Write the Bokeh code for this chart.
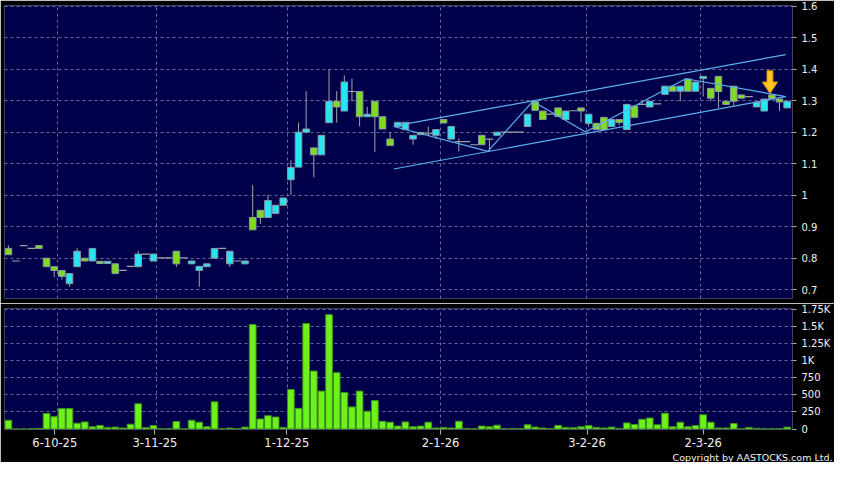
from bokeh.plotting import figure
from bokeh.models import Range1d, FixedTicker, NumeralTickFormatter, Title, ColumnDataSource
from bokeh.layouts import column
from bokeh.embed import file_html
from bokeh.resources import INLINE

# ---------------- data ----------------
opens = [0.831, 0.791, 0.840, 0.831, 0.840, 0.800, 0.773, 0.761, 0.719, 0.773,
         0.800, 0.791, 0.790, 0.783, 0.782, 0.761, 0.774, 0.773, 0.813, 0.791,
         0.801, 0.801, 0.822, 0.801, 0.782, 0.761, 0.773, 0.800, 0.831, 0.782,
         0.791, 0.782, 0.929, 0.952, 0.929, 0.942, 0.968, 1.049, 1.089, 1.200,
         1.150, 1.128, 1.230, 1.298, 1.267, 1.329, 1.329, 1.249, 1.298, 1.249,
         1.178, 1.218, 1.208, 1.178, 1.199, 1.195, 1.190, 1.240, 1.178, 1.170,
         1.170, 1.160, 1.190, 1.178, 1.190, 1.200, 1.200, 1.200, 1.218, 1.298,
         1.267, 1.257, 1.277, 1.240, 1.268, 1.277, 1.228, 1.228, 1.247, 1.218,
         1.240, 1.208, 1.283, 1.288, 1.280, 1.290, 1.320, 1.346, 1.330, 1.369,
         1.330, 1.370, 1.339, 1.377, 1.298, 1.346, 1.318, 1.313, 1.280, 1.267,
         1.318, 1.305, 1.277]
highs = [0.841, 0.791, 0.840, 0.831, 0.840, 0.800, 0.773, 0.761, 0.751, 0.832,
         0.800, 0.831, 0.790, 0.790, 0.782, 0.761, 0.774, 0.823, 0.813, 0.813,
         0.801, 0.801, 0.822, 0.801, 0.791, 0.774, 0.782, 0.831, 0.831, 0.822,
         0.791, 0.791, 1.032, 0.952, 1.001, 0.968, 0.991, 1.111, 1.230, 1.330,
         1.150, 1.190, 1.400, 1.330, 1.380, 1.370, 1.329, 1.280, 1.298, 1.249,
         1.200, 1.231, 1.231, 1.190, 1.199, 1.218, 1.208, 1.240, 1.218, 1.180,
         1.170, 1.160, 1.190, 1.178, 1.200, 1.200, 1.200, 1.200, 1.257, 1.298,
         1.267, 1.257, 1.277, 1.267, 1.268, 1.277, 1.257, 1.228, 1.247, 1.240,
         1.240, 1.288, 1.283, 1.300, 1.298, 1.290, 1.346, 1.346, 1.346, 1.369,
         1.359, 1.377, 1.339, 1.377, 1.298, 1.346, 1.318, 1.313, 1.295, 1.305,
         1.318, 1.305, 1.298]
lows = [0.811, 0.791, 0.840, 0.831, 0.831, 0.773, 0.740, 0.732, 0.709, 0.773,
        0.791, 0.791, 0.783, 0.783, 0.751, 0.761, 0.774, 0.773, 0.813, 0.791,
        0.801, 0.801, 0.772, 0.801, 0.782, 0.709, 0.773, 0.800, 0.831, 0.772,
        0.791, 0.782, 0.890, 0.909, 0.929, 0.942, 0.968, 1.001, 1.089, 1.200,
        1.057, 1.128, 1.230, 1.230, 1.267, 1.298, 1.218, 1.249, 1.137, 1.210,
        1.158, 1.218, 1.208, 1.160, 1.192, 1.190, 1.178, 1.229, 1.178, 1.139,
        1.170, 1.160, 1.160, 1.139, 1.190, 1.200, 1.200, 1.200, 1.218, 1.269,
        1.240, 1.257, 1.250, 1.240, 1.268, 1.231, 1.218, 1.208, 1.208, 1.218,
        1.222, 1.208, 1.247, 1.288, 1.280, 1.290, 1.320, 1.330, 1.298, 1.330,
        1.330, 1.313, 1.298, 1.277, 1.288, 1.282, 1.308, 1.313, 1.280, 1.267,
        1.306, 1.267, 1.277]
closes = [0.811, 0.791, 0.840, 0.831, 0.831, 0.773, 0.761, 0.742, 0.751, 0.822,
          0.791, 0.831, 0.783, 0.790, 0.751, 0.761, 0.774, 0.813, 0.813, 0.813,
          0.801, 0.801, 0.782, 0.801, 0.791, 0.774, 0.782, 0.831, 0.831, 0.822,
          0.791, 0.791, 0.890, 0.929, 0.983, 0.968, 0.991, 1.088, 1.200, 1.210,
          1.128, 1.190, 1.298, 1.280, 1.359, 1.329, 1.249, 1.257, 1.249, 1.210,
          1.158, 1.231, 1.231, 1.190, 1.192, 1.195, 1.208, 1.229, 1.218, 1.170,
          1.170, 1.160, 1.160, 1.178, 1.200, 1.200, 1.200, 1.200, 1.257, 1.269,
          1.240, 1.257, 1.250, 1.267, 1.268, 1.267, 1.257, 1.208, 1.208, 1.240,
          1.231, 1.288, 1.247, 1.288, 1.298, 1.290, 1.346, 1.330, 1.346, 1.330,
          1.359, 1.377, 1.308, 1.329, 1.288, 1.298, 1.308, 1.313, 1.295, 1.305,
          1.306, 1.296, 1.298]
volumes = [128, 0, 0, 5, 10, 228, 180, 299, 299, 85,
           104, 33, 53, 24, 28, 15, 71, 370, 20, 50,
           3, 3, 109, 3, 128, 100, 33, 398, 3, 15,
           5, 28, 1532, 147, 195, 176, 24, 579, 303, 1547,
           849, 555, 1675, 825, 536, 323, 555, 261, 417, 114,
           100, 43, 104, 33, 43, 100, 15, 24, 15, 114,
           10, 3, 43, 33, 57, 3, 8, 3, 62, 28,
           15, 8, 53, 24, 20, 33, 53, 24, 15, 28,
           10, 90, 66, 142, 161, 62, 232, 33, 100, 33,
           50, 209, 100, 15, 15, 81, 3, 24, 10, 3,
           3, 5, 28]

date_tick_pos = [6.08, 19.19, 36.46, 56.6, 75.8, 91.0]
date_grid_pos = [6.49, 19.45, 36.54, 56.6, 75.67, 90.66]
date_labels = ["6-10-25", "3-11-25", "1-12-25", "2-1-26", "3-2-26", "2-3-26"]

price_ticks = [0.7, 0.8, 0.9, 1.0, 1.1, 1.2, 1.3, 1.4, 1.5, 1.6]
vol_ticks = [0, 250, 500, 750, 1000, 1250, 1500, 1750]
vol_labels = ["0", "250", "500", "750", "1K", "1.25K", "1.5K", "1.75K"]

# trend lines drawn on the chart (bar index, price)
upper_x = [50.47, 101.8]
upper_y = [1.219, 1.446]
lower_x = [50.47, 101.8]
lower_y = [1.083, 1.313]
zig_x = [50.47, 62.81, 68.68, 75.58, 88.73, 101.8]
zig_y = [1.218, 1.139, 1.298, 1.2006, 1.3695, 1.313]

# marker arrow (bar index, top price, neck price, tip price)
arrow_idx = 99.75
arrow_top = 1.395
arrow_neck = 1.359
arrow_tip = 1.323

copyright_text = "Copyright by AASTOCKS.com Ltd."

# ---------------- styling ----------------
BG = "#00004a"
GRID = "#6a6a9a"
UP = "#25e6f2"
DOWN = "#7ddc1e"
EDGE = "#8c98a4"
WICK = "#a4a4a4"
VOLC = "#6cf21a"
VOLE = "#3f8f1a"
TREND = "#5cb2ee"
TXT = "#f0f0f0"
FONT = "DejaVu Sans"

W = 834
XR = (-0.51, 102.7)

n = len(opens)
idx = list(range(n))

up = dict(x=[], top=[], bottom=[])
dn = dict(x=[], top=[], bottom=[])
dj = dict(x0=[], x1=[], y=[])
for i in idx:
    o, c = opens[i], closes[i]
    if c > o:
        up["x"].append(i); up["top"].append(c); up["bottom"].append(o)
    elif c < o:
        dn["x"].append(i); dn["top"].append(o); dn["bottom"].append(c)
    else:
        dj["x0"].append(i - 0.5); dj["x1"].append(i + 0.5); dj["y"].append(c)

# ---------------- price panel ----------------
p1 = figure(width=W, height=303, x_range=Range1d(*XR), y_range=Range1d(0.672, 1.602),
            output_backend="svg", toolbar_location=None, y_axis_location="right",
            min_border_left=4, min_border_right=42, min_border_top=5, min_border_bottom=5,
            background_fill_color=BG, border_fill_color="black", outline_line_color=None)
p1.xaxis.visible = False
p1.xgrid.ticker = FixedTicker(ticks=date_grid_pos)
p1.yaxis.ticker = FixedTicker(ticks=price_ticks)
p1.ygrid.ticker = FixedTicker(ticks=price_ticks)
p1.yaxis.formatter = NumeralTickFormatter(format="0.[0]")
for g in (p1.xgrid, p1.ygrid):
    g.grid_line_color = GRID
    g.grid_line_dash = "3 3"
    g.grid_line_width = 1

p1.segment(x0=idx, x1=idx, y0=lows, y1=highs, line_color=WICK, line_width=1)
p1.segment(x0="x0", x1="x1", y0="y", y1="y", source=ColumnDataSource(dj),
           line_color=WICK, line_width=1.2)
p1.vbar(x="x", top="top", bottom="bottom", width=0.86, source=ColumnDataSource(up),
        fill_color=UP, line_color=EDGE, line_width=1)
p1.vbar(x="x", top="top", bottom="bottom", width=0.86, source=ColumnDataSource(dn),
        fill_color=DOWN, line_color=EDGE, line_width=1)

p1.line(upper_x, upper_y, line_color=TREND, line_width=1.2)
p1.line(lower_x, lower_y, line_color=TREND, line_width=1.2)
p1.line(zig_x, zig_y, line_color=TREND, line_width=1.2)

sw, hw = 0.39, 1.0
ax = [arrow_idx - sw, arrow_idx + sw, arrow_idx + sw, arrow_idx + hw,
      arrow_idx, arrow_idx - hw, arrow_idx - sw]
ay = [arrow_top, arrow_top, arrow_neck, arrow_neck, arrow_tip, arrow_neck, arrow_neck]
p1.patch(ax, ay, fill_color="#ffc61e", line_color="#e08a00", line_width=1)

# ---------------- volume panel ----------------
p2 = figure(width=W, height=159, x_range=p1.x_range, y_range=Range1d(-7, 1765),
            output_backend="svg", toolbar_location=None, y_axis_location="right",
            min_border_left=4, min_border_right=42, min_border_top=5, min_border_bottom=0,
            background_fill_color=BG, border_fill_color="black", outline_line_color=None)
p2.vbar(x=idx, top=volumes, bottom=0, width=0.88, fill_color=VOLC, line_color=VOLE, line_width=1)
p2.xaxis.ticker = FixedTicker(ticks=date_tick_pos)
p2.xaxis.major_label_overrides = {k: v for k, v in zip(date_tick_pos, date_labels)}
p2.xgrid.ticker = FixedTicker(ticks=date_grid_pos)
p2.yaxis.ticker = FixedTicker(ticks=vol_ticks)
p2.ygrid.ticker = FixedTicker(ticks=vol_ticks)
p2.yaxis.major_label_overrides = {k: v for k, v in zip(vol_ticks, vol_labels)}
for g in (p2.xgrid, p2.ygrid):
    g.grid_line_color = GRID
    g.grid_line_dash = "3 3"
    g.grid_line_width = 1

for a in (p1.yaxis[0], p2.yaxis[0]):
    a.axis_line_color = None
    a.major_tick_line_color = "#b0b0b0"
    a.major_tick_in = 0
    a.major_tick_out = 4
    a.minor_tick_line_color = None
    a.major_label_standoff = 5
    a.major_label_text_color = TXT
    a.major_label_text_font = FONT
    a.major_label_text_font_size = "10px"

xa = p2.xaxis[0]
xa.axis_line_color = None
xa.major_tick_line_color = "#b0b0b0"
xa.major_tick_in = 0
xa.major_tick_out = 5
xa.minor_tick_line_color = None
xa.major_label_standoff = 3
xa.major_label_text_color = TXT
xa.major_label_text_font = FONT
xa.major_label_text_font_size = "11.5px"

p2.add_layout(Title(text=copyright_text, align="right", offset=-40, standoff=0,
                    text_color=TXT, text_font=FONT, text_font_size="9.5px",
                    text_font_style="normal"), "below")

layout = column(p1, p2, spacing=0)
open("out.html", "w").write(file_html(layout, INLINE))
